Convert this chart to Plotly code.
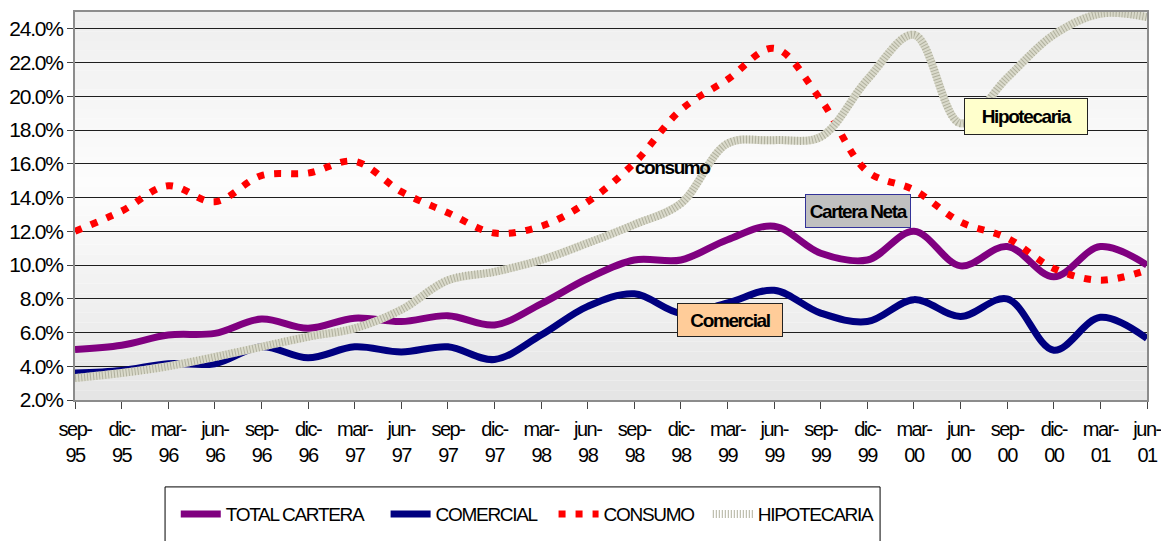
import plotly.graph_objects as go

quarters = ["sep-95", "dic-95", "mar-96", "jun-96", "sep-96", "dic-96", "mar-97", "jun-97",
            "sep-97", "dic-97", "mar-98", "jun-98", "sep-98", "dic-98", "mar-99", "jun-99",
            "sep-99", "dic-99", "mar-00", "jun-00", "sep-00", "dic-00", "mar-01", "jun-01"]

# valores en %
total_cartera = [5.0, 5.25, 5.85, 5.95, 6.8, 6.25, 6.85, 6.65, 7.0, 6.45, 7.7, 9.2,
                 10.3, 10.3, 11.5, 12.3, 10.7, 10.3, 12.0, 9.95, 11.1, 9.3, 11.1, 10.0]
comercial = [3.6, 3.75, 4.15, 4.15, 5.15, 4.5, 5.15, 4.85, 5.15, 4.4, 5.85, 7.55,
             8.3, 7.15, 7.75, 8.5, 7.15, 6.65, 7.95, 6.95, 8.0, 4.95, 6.9, 5.65]
consumo = [12.0, 13.2, 14.7, 13.75, 15.3, 15.45, 16.15, 14.35, 13.1, 11.9, 12.3, 13.75,
           16.05, 19.2, 21.0, 22.85, 19.8, 15.55, 14.45, 12.55, 11.6, 9.8, 9.1, 9.7]
hipotecaria = [3.3, 3.6, 4.0, 4.55, 5.15, 5.75, 6.25, 7.35, 9.1, 9.6, 10.3, 11.3,
               12.4, 13.65, 17.2, 17.4, 17.6, 21.0, 23.65, 18.4, 21.1, 23.65, 24.9, 24.7]

y_ticks = list(range(2, 25, 2))

FONT = "Liberation Sans, Arial, sans-serif"

fig = go.Figure()

fig.add_trace(go.Scatter(x=quarters, y=total_cartera, mode="lines", name="TOTAL CARTERA",
                         line=dict(color="#800080", width=7, shape="spline")))
fig.add_trace(go.Scatter(x=quarters, y=comercial, mode="lines", name="COMERCIAL",
                         line=dict(color="#000080", width=7, shape="spline")))
fig.add_trace(go.Scatter(x=quarters, y=consumo, mode="lines", name="CONSUMO",
                         line=dict(color="#ff0000", width=7, shape="spline", dash="7px,10px")))
# hipotecaria: base + rayado
fig.add_trace(go.Scatter(x=quarters, y=hipotecaria, mode="lines", showlegend=False,
                         hoverinfo="skip",
                         line=dict(color="#dadacb", width=8, shape="spline")))
fig.add_trace(go.Scatter(x=quarters, y=hipotecaria, mode="lines", name="HIPOTECARIA",
                         line=dict(color="#b0b09e", width=8, shape="spline", dash="1px,2px")))

# fondo degradado del area de trazado
shapes = []
n = 40
for i in range(n):
    t = (i + 0.5) / n  # 0 abajo, 1 arriba
    if t < 0.55:
        g = 228 + (253 - 228) * (t / 0.55)
    else:
        g = 253 - (253 - 238) * ((t - 0.55) / 0.45)
    g = int(round(g))
    shapes.append(dict(type="rect", xref="paper", yref="paper", x0=0, x1=1,
                       y0=i / n, y1=(i + 1) / n, layer="below", line=dict(width=0),
                       fillcolor=f"rgb({g},{g},{g})"))
# caja de la leyenda (cortada por el borde inferior)
shapes.append(dict(type="rect", xref="paper", yref="paper", x0=0.084, x1=0.751,
                   y0=-0.224, y1=-0.40, line=dict(color="black", width=1),
                   fillcolor="rgba(0,0,0,0)"))

ann_font = dict(size=19, color="black", family=FONT)
annotations = [
    dict(x=12.81, y=15.76, text="<b>consumo</b>", showarrow=False, font=ann_font),
    dict(x=16.8, y=13.2, text="<b>Cartera Neta</b>", showarrow=False, font=ann_font,
         bgcolor="#c0c0c0", bordercolor="#333399", borderwidth=1, borderpad=2,
         width=100, height=28),
    dict(x=20.41, y=18.78, text="<b>Hipotecaria</b>", showarrow=False, font=ann_font,
         bgcolor="#ffffcc", bordercolor="#222222", borderwidth=1, borderpad=2,
         width=118, height=31),
    dict(x=14.06, y=6.74, text="<b>Comercial</b>", showarrow=False, font=ann_font,
         bgcolor="#ffcc99", bordercolor="#222222", borderwidth=1, borderpad=2,
         width=100, height=28),
]

fig.update_layout(
    width=1161,
    height=541,
    margin=dict(l=75, r=14, t=12, b=141, autoexpand=False),
    paper_bgcolor="white",
    plot_bgcolor="white",
    font=dict(family=FONT, color="black"),
    shapes=shapes,
    annotations=annotations,
    showlegend=True,
    legend=dict(
        orientation="h",
        x=0.094, y=-0.245,
        xanchor="left", yanchor="top",
        font=dict(size=19, family=FONT, color="black"),
        bgcolor="rgba(0,0,0,0)",
        borderwidth=0,
        itemwidth=40,
    ),
    xaxis=dict(
        type="category",
        range=[0, 23],
        tickvals=quarters,
        ticktext=[q.replace("-", "-<br>") for q in quarters],
        tickangle=0,
        tickfont=dict(size=20, family=FONT),
        ticks="outside", ticklen=7, tickcolor="#444444", tickwidth=1,
        ticklabelstandoff=3,
        showgrid=False,
        showline=True, linecolor="#8c8c8c", linewidth=2, mirror=True,
        zeroline=False,
        automargin=False,
    ),
    yaxis=dict(
        range=[2, 25],
        tickvals=y_ticks,
        ticktext=[f"{v:.1f}%" for v in y_ticks],
        tickfont=dict(size=21, family=FONT),
        ticks="outside", ticklen=6, tickcolor="#444444", tickwidth=1,
        showgrid=True, gridcolor="#1e1e1e", gridwidth=1,
        showline=True, linecolor="#8c8c8c", linewidth=2, mirror=True,
        zeroline=False,
        automargin=False,
    ),
)

# sin margen del body y texto apretado como en el original
post = """
document.body.style.margin = '0';
var gd = document.getElementById('{plot_id}');
function ls(sel, v) { gd.querySelectorAll(sel).forEach(function (t) { t.style.letterSpacing = v; }); }
ls('.xtick text', '-1.5px');
ls('.ytick text', '-1.2px');
ls('.legendtext', '-1.3px');
ls('.annotation-text', '-1.4px');
"""

fig.write_html("out.html", post_script=post, config={"displayModeBar": False})
